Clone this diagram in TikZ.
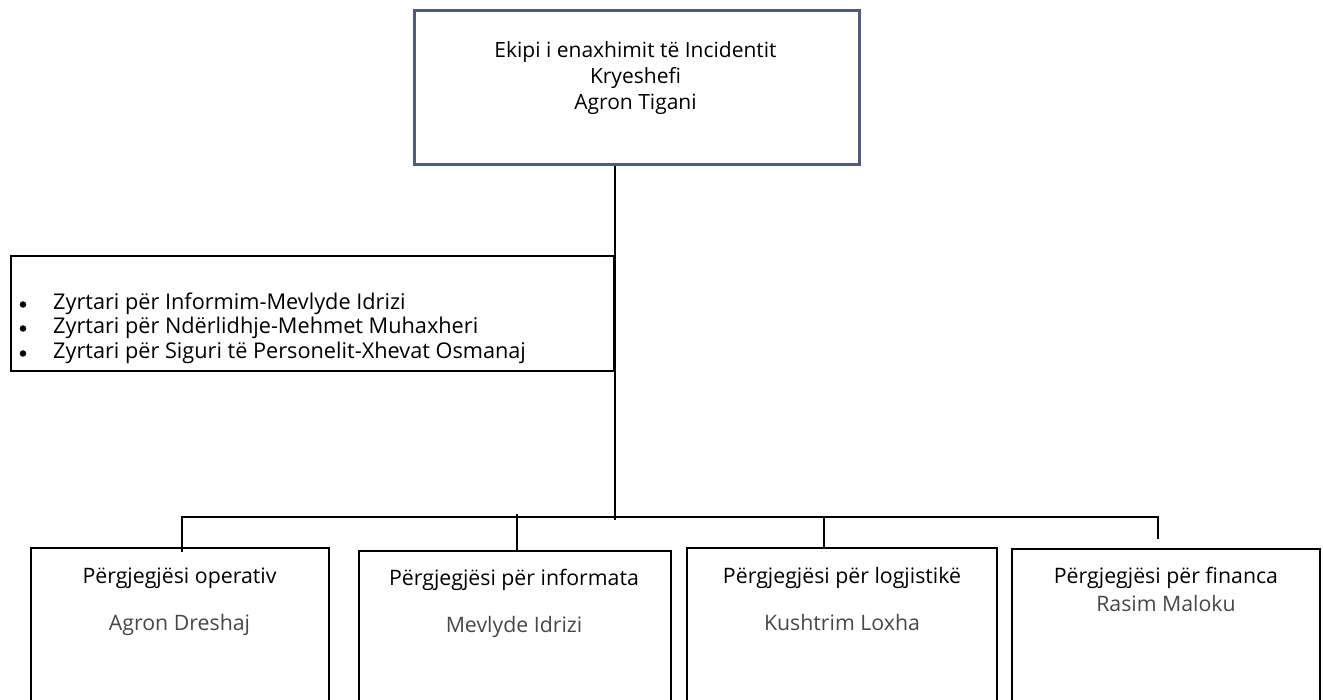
\documentclass[tikz,border=0pt]{standalone}
\usepackage{fontspec}
\setmainfont{Open Sans}
\definecolor{slate}{HTML}{4D5D7A}
\definecolor{namegray}{HTML}{474747}
\tikzset{
  orgbox/.style={draw=black, line width=1.8pt, rectangle, inner sep=0pt, anchor=north west},
  orgtopbox/.style={draw=slate, line width=2.6pt, rectangle, inner sep=0pt, anchor=north west},
  orgconn/.style={draw=black, line width=1.8pt},
  orgtoptxt/.style={anchor=base, inner sep=0pt, font=\fontsize{21}{24}\selectfont},
  orghead/.style={anchor=base, inner sep=0pt, font=\fontsize{21.3}{24}\selectfont},
  orgname/.style={anchor=base, inner sep=0pt, text=namegray, font=\fontsize{21.3}{24}\selectfont},
  orgitem/.style={anchor=base west, inner sep=0pt, font=\fontsize{21.7}{24}\selectfont},
  orgbul/.style={circle, fill=black, inner sep=0pt, minimum size=6.5pt}
}
\begin{document}
\begin{tikzpicture}[x=1pt,y=-1pt]
\useasboundingbox (0,0) rectangle (1323,700);
\clip (0,0) rectangle (1323,700);
% top box
\node[orgtopbox, minimum width=445pt, minimum height=154pt] (top) at (413,9) {};
\node[orgtoptxt] (t1) at (635.5,58) {Ekipi i enaxhimit të Incidentit};
\node[orgtoptxt] (t2) at (635.5,84) {Kryeshefi};
\node[orgtoptxt] (t3) at (635.5,110) {Agron Tigani};
% middle box
\node[orgbox, minimum width=603pt, minimum height=115pt] (mid) at (10,255) {};
\node[orgbul] (m1b) at (23,304.5) {};
\node[orgbul] (m2b) at (23,328.5) {};
\node[orgbul] (m3b) at (23,353.5) {};
\node[orgitem] (m1) at (53,310) {Zyrtari për Informim-Mevlyde Idrizi};
\node[orgitem] (m2) at (53,334) {Zyrtari për Ndërlidhje-Mehmet Muhaxheri};
\node[orgitem] (m3) at (53,359) {Zyrtari për Siguri të Personelit-Xhevat Osmanaj};
% bottom boxes
\node[orgbox, minimum width=298pt, minimum height=200pt] (b1) at (30,547) {};
\node[orgbox, minimum width=312pt, minimum height=200pt] (b2) at (358,550) {};
\node[orgbox, minimum width=310pt, minimum height=200pt] (b3) at (686,547) {};
\node[orgbox, minimum width=308pt, minimum height=200pt] (b4) at (1011,548) {};
\node[orghead] (h1) at (179.5,583) {Përgjegjësi operativ};
\node[orgname] (n1) at (179.5,630) {Agron Dreshaj};
\node[orghead] (h2) at (514,585) {Përgjegjësi për informata};
\node[orgname] (n2) at (514,632) {Mevlyde Idrizi};
\node[orghead] (h3) at (842,583) {Përgjegjësi për logjistikë};
\node[orgname] (n3) at (842,630) {Kushtrim Loxha};
\node[orghead] (h4) at (1166,583) {Përgjegjësi për financa};
\node[orgname] (n4) at (1166,611) {Rasim Maloku};
% connectors
\coordinate (spine) at (615,520);
\coordinate (busL) at (181,517);
\coordinate (busR) at (1159,517);
\coordinate (d1) at (182,517);
\coordinate (d2) at (517,514);
\coordinate (d3) at (824,517);
\coordinate (d4) at (1158,517);
\coordinate (d4end) at (1158,539);
\draw[orgconn] (top.south -| spine) -- (spine);
\draw[orgconn] (busL) -- (busR);
\draw[orgconn] (d1) -- ([yshift=-5pt]d1 |- b1.north);
\draw[orgconn] (d2) -- (d2 |- b2.north);
\draw[orgconn] (d3) -- (d3 |- b3.north);
\draw[orgconn] (d4) -- (d4end);
\end{tikzpicture}
\end{document}
